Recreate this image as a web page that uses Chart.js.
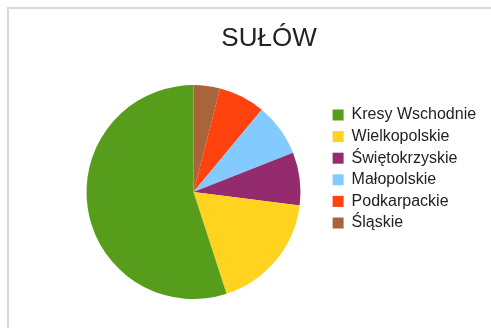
<!DOCTYPE html>
<html>
<head>
<meta charset="utf-8">
<script src="https://cdn.jsdelivr.net/npm/chart.js@4.4.0/dist/chart.umd.min.js"></script>
<style>
  html, body { margin: 0; padding: 0; background: #fff; overflow: hidden; }
  #ramka {
    position: absolute; left: 7px; top: 7px; width: 500px; height: 330px;
    border-left: 2px solid #d9d9d9; border-top: 2px solid #d9d9d9;
  }
  #wykres-box { position: absolute; left: 0; top: 0; width: 491px; height: 328px; }
</style>
</head>
<body>
<div id="ramka"></div>
<div id="wykres-box"><canvas id="wykres"></canvas></div>
<script>
// regiony pochodzenia mieszkańców
const regiony = ["Kresy Wschodnie", "Wielkopolskie", "Świętokrzyskie", "Małopolskie", "Podkarpackie", "Śląskie"];
const udzialy = [55, 18, 8, 8, 7, 4];
const kolory = ["#579d1c", "#ffd320", "#932b6e", "#83caff", "#ff420e", "#a8643a"];

// wycinki idą przeciwnie do wskazówek zegara, więc odwracamy kolejność
const odwr = (arr) => arr.slice().reverse();

Chart.defaults.font.family = "'Liberation Sans', Arial, sans-serif";

const ctx = document.getElementById("wykres");

new Chart(ctx, {
  type: "pie",
  data: {
    labels: odwr(regiony),
    datasets: [{
      data: odwr(udzialy),
      backgroundColor: odwr(kolory),
      borderWidth: 0
    }]
  },
  options: {
    responsive: true,
    maintainAspectRatio: false,
    animation: false,
    radius: 107,
    layout: {
      padding: { left: 60, right: 13, top: 10, bottom: 0 }
    },
    plugins: {
      title: {
        display: true,
        text: "SUŁÓW",
        color: "#222",
        font: { size: 26, weight: "normal" },
        padding: { top: 13, bottom: 2 }
      },
      legend: {
        position: "right",
        reverse: true,
        maxWidth: 151,
        labels: {
          color: "#222",
          font: { size: 16 },
          boxWidth: 11,
          boxHeight: 11,
          padding: 5.6
        }
      },
      tooltip: { enabled: false }
    }
  }
});
</script>
</body>
</html>
